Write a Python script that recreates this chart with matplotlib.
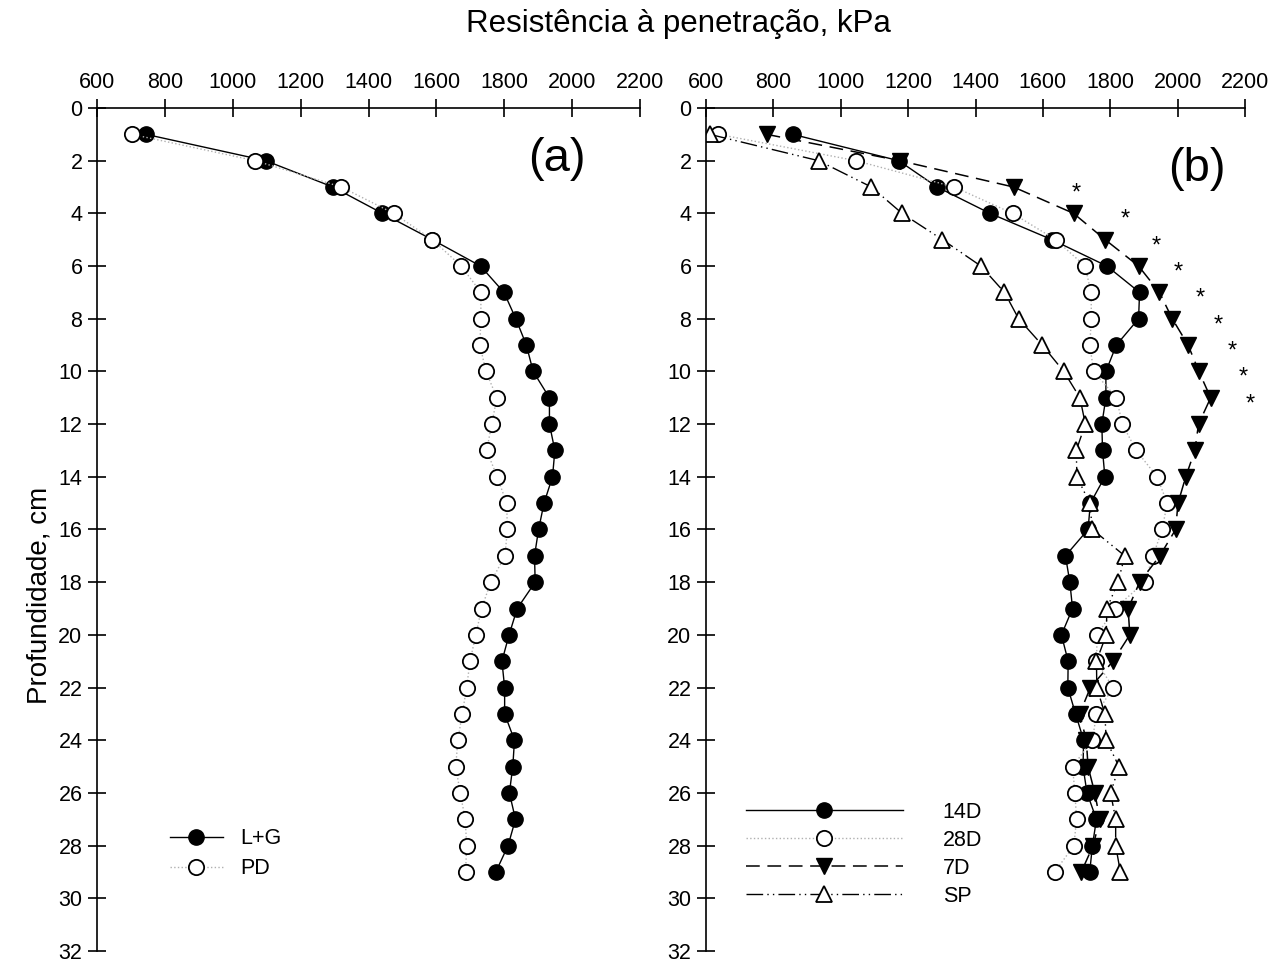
"""
Penetration resistance vs depth, two panels (a) and (b).
"""

import matplotlib
matplotlib.use("Agg")
import matplotlib.pyplot as plt

plt.rcParams['font.family'] = ['Liberation Sans', 'DejaVu Sans']

# ---------------------------------------------------------------------------- #
# DATA

depth = list(range(1, 30))

# panel (a)
lg = [744, 1097, 1295, 1441, 1588, 1730, 1799, 1834, 1865, 1885, 1933, 1933,
      1949, 1942, 1917, 1901, 1889, 1891, 1838, 1814, 1793, 1801, 1801, 1830,
      1825, 1815, 1833, 1811, 1775]
pd_ = [703, 1066, 1320, 1474, 1588, 1673, 1731, 1731, 1728, 1746, 1778, 1763,
       1748, 1779, 1807, 1809, 1802, 1760, 1733, 1716, 1699, 1689, 1676, 1663,
       1657, 1670, 1685, 1689, 1686]

# panel (b)
d14 = [857, 1172, 1286, 1443, 1627, 1790, 1887, 1884, 1818, 1787, 1787, 1775,
       1777, 1784, 1741, 1734, 1667, 1680, 1688, 1655, 1675, 1674, 1697, 1721,
       1719, 1731, 1759, 1747, 1739]
d28 = [637, 1045, 1337, 1510, 1638, 1725, 1743, 1744, 1739, 1751, 1818, 1836,
       1877, 1939, 1969, 1954, 1927, 1902, 1813, 1761, 1759, 1808, 1759, 1747,
       1688, 1695, 1700, 1692, 1635]
d7 = [780, 1175, 1513, 1691, 1785, 1884, 1946, 1984, 2031, 2063, 2098, 2062,
      2051, 2024, 2001, 1994, 1947, 1887, 1853, 1858, 1808, 1741, 1709, 1729,
      1734, 1754, 1769, 1749, 1714]
sp = [611, 934, 1091, 1182, 1302, 1416, 1486, 1528, 1598, 1662, 1710, 1726,
      1699, 1701, 1739, 1747, 1843, 1823, 1790, 1788, 1759, 1760, 1784, 1788,
      1826, 1801, 1816, 1816, 1830]

# significance marks
star_depth = [3, 4, 5, 6, 7, 8, 9, 10, 11]
star_x = [1700, 1845, 1937, 2003, 2066, 2120, 2163, 2194, 2215]

x_ticks = list(range(600, 2201, 200))
y_ticks = list(range(0, 33, 2))

# ---------------------------------------------------------------------------- #
# FIGURE

fig = plt.figure(figsize=(12.85, 9.65), dpi=100)
ax_a = fig.add_axes([0.0755, 0.0145, 0.4226, 0.8736])
ax_b = fig.add_axes([0.5494, 0.0145, 0.4195, 0.8736])

FS = 15.5
MS = 11

for ax in (ax_a, ax_b):
    ax.set_xlim(600, 2200)
    ax.set_ylim(32, 0)
    ax.set_xticks(x_ticks)
    ax.set_yticks(y_ticks)
    ax.xaxis.tick_top()
    ax.spines['right'].set_visible(False)
    ax.spines['bottom'].set_visible(False)
    ax.spines['top'].set_linewidth(1.2)
    ax.spines['left'].set_linewidth(1.2)
    ax.tick_params(direction='inout', length=13, width=1.2, labelsize=FS,
                   pad=4)
    ax.patch.set_alpha(0)

# panel (a)
ax_a.plot(lg, depth, '-', color='black', lw=1.0, marker='o', ms=MS,
          mfc='black', mec='black', label='L+G')
ax_a.plot(pd_, depth, ':', color='#b0b0b0', lw=1.0, marker='o', ms=MS,
          mfc='white', mec='black', mew=1.3, label='PD')
ax_a.text(0.847, 0.94, '(a)', transform=ax_a.transAxes, fontsize=34,
          ha='center', va='center')
ax_a.legend(loc='upper left', bbox_to_anchor=(0.134, 0.1455), frameon=False,
            fontsize=FS, handlelength=2.45, handletextpad=0.8,
            labelspacing=0.42, borderpad=0, borderaxespad=0)

# panel (b)
ax_b.plot(d14, depth, '-', color='black', lw=1.0, marker='o', ms=MS,
          mfc='black', mec='black', label='14D')
ax_b.plot(d28, depth, ':', color='#b0b0b0', lw=1.0, marker='o', ms=MS,
          mfc='white', mec='black', mew=1.3, label='28D')
ax_b.plot(d7, depth, color='black', lw=1.1, ls=(0, (9, 5)), marker='v',
          ms=MS, mfc='black', mec='black', label='7D')
ax_b.plot(sp, depth, color='black', lw=1.0, ls=(0, (12, 3, 1, 3, 1, 3)),
          marker='^', ms=MS, mfc='white', mec='black', mew=1.3, label='SP')
for xs, ds in zip(star_x, star_depth):
    ax_b.text(xs, ds + 0.25, '*', fontsize=17, ha='center', va='center')
ax_b.text(0.911, 0.928, '(b)', transform=ax_b.transAxes, fontsize=34,
          ha='center', va='center')
ax_b.legend(loc='upper left', bbox_to_anchor=(0.074, 0.1768), frameon=False,
            fontsize=FS, handlelength=7.3, handletextpad=1.85,
            labelspacing=0.32, borderpad=0, borderaxespad=0)

fig.text(0.031, 0.383, 'Profundidade, cm', fontsize=20, rotation=90,
         ha='center', va='center')
fig.text(0.5276, 0.975, 'Resistência à penetração, kPa', fontsize=22.5,
         ha='center', va='center')

fig.savefig('out.png', dpi=100)
